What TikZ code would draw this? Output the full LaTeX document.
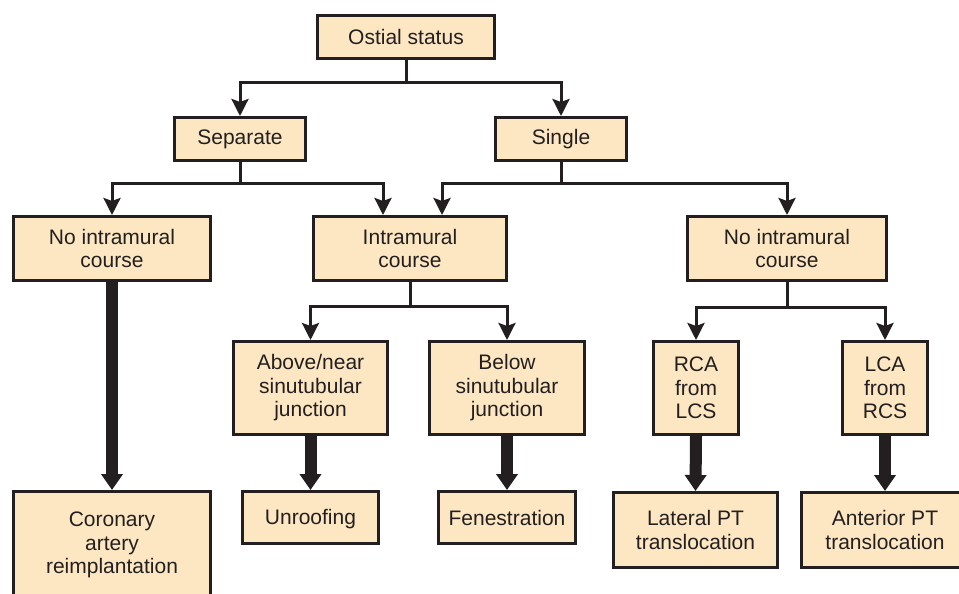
\documentclass[tikz,border=0pt]{standalone}
\usepackage{fontspec}
\setmainfont{Liberation Sans}
\usetikzlibrary{arrows.meta}
\definecolor{sand}{HTML}{FCE7C2}
\definecolor{ink}{HTML}{231F20}

\begin{document}
\begin{tikzpicture}[
    x=1pt, y=-1pt,
    line cap=butt, line join=miter,
    every node/.style={font=\fontsize{21}{23.5}\selectfont, text=ink},
    box/.style={draw=ink, fill=sand, line width=3pt, align=center, inner sep=0pt},
    flow/.style={ink, line width=3pt, -{Stealth[length=17pt,width=17pt,inset=3pt]}},
    bigflow/.style={ink, line width=12pt, -{Triangle[length=16pt,width=21pt]}},
]
\useasboundingbox (0,0) rectangle (959,594);

% --- Level 1 and 2 ---
\node[box, minimum width=177pt, minimum height=43pt] (ostial) at (406,37) {Ostial status};
\node[box, minimum width=131pt, minimum height=43pt] (separate) at (240,139) {Separate};
\node[box, minimum width=131pt, minimum height=43pt] (single) at (561,139) {Single};

% --- Level 3: intramural course ---
\node[box, minimum width=197pt, minimum height=64pt] (noleft) at (112,248.5) {No intramural\\course};
\node[box, minimum width=193pt, minimum height=64pt] (intra) at (410,248.5) {Intramural\\course};
\node[box, minimum width=199pt, minimum height=64pt] (noright) at (787,248.5) {No intramural\\course};

% --- Level 4 ---
\node[box, minimum width=154pt, minimum height=93pt] (above) at (310.5,388) {Above/near\\sinutubular\\junction};
\node[box, minimum width=155pt, minimum height=93pt] (below) at (507,388) {Below\\sinutubular\\junction};
\node[box, minimum width=85pt, minimum height=93pt] (rca) at (696,388) {RCA\\from\\LCS};
\node[box, minimum width=85pt, minimum height=93pt] (lca) at (885,388) {LCA\\from\\RCS};

% --- Procedures (bottom row) ---
\node[box, minimum width=197pt, minimum height=107pt] (coronary) at (112,545) {Coronary\\artery\\reimplantation};
\node[box, minimum width=136pt, minimum height=52pt, text depth=1pt] (unroof) at (310.5,517.5) {Unroofing};
\node[box, minimum width=137pt, minimum height=52pt] (fenes) at (507,517.5) {Fenestration};
\node[box, minimum width=164pt, minimum height=75pt] (lateral) at (695.5,530) {Lateral PT\\translocation};
\node[box, minimum width=167pt, minimum height=75pt] (anterior) at (885,530) {Anterior PT\\translocation};

% --- Branching connectors ---
\draw[flow] (ostial.south) -- ++(0,23) -| (separate.north);
\draw[flow] (ostial.south) -- ++(0,23) -| (single.north);
\draw[flow] (separate.south) -- ++(0,21) -| (noleft.north);
\draw[flow] (separate.south) -- ++(0,21) -| ([xshift=-27pt]intra.north);
\draw[flow] (single.south) -- ++(0,21) -| ([xshift=32pt]intra.north);
\draw[flow] (single.south) -- ++(0,21) -| (noright.north);
\draw[flow] (intra.south) -- ++(0,24) -| (above.north);
\draw[flow] (intra.south) -- ++(0,24) -| (below.north);
\draw[flow] (noright.south) -- ++(0,25) -| (rca.north);
\draw[flow] (noright.south) -- ++(0,25) -| (lca.north);

% --- Thick arrows to procedures ---
\draw[bigflow] (noleft.south) -- (coronary.north);
\draw[bigflow] (above.south) -- (unroof.north);
\draw[bigflow] (below.south) -- (fenes.north);
\draw[bigflow] (rca.south) -- (lateral.north);
\draw[bigflow] (lca.south) -- (anterior.north);

\end{tikzpicture}
\end{document}
